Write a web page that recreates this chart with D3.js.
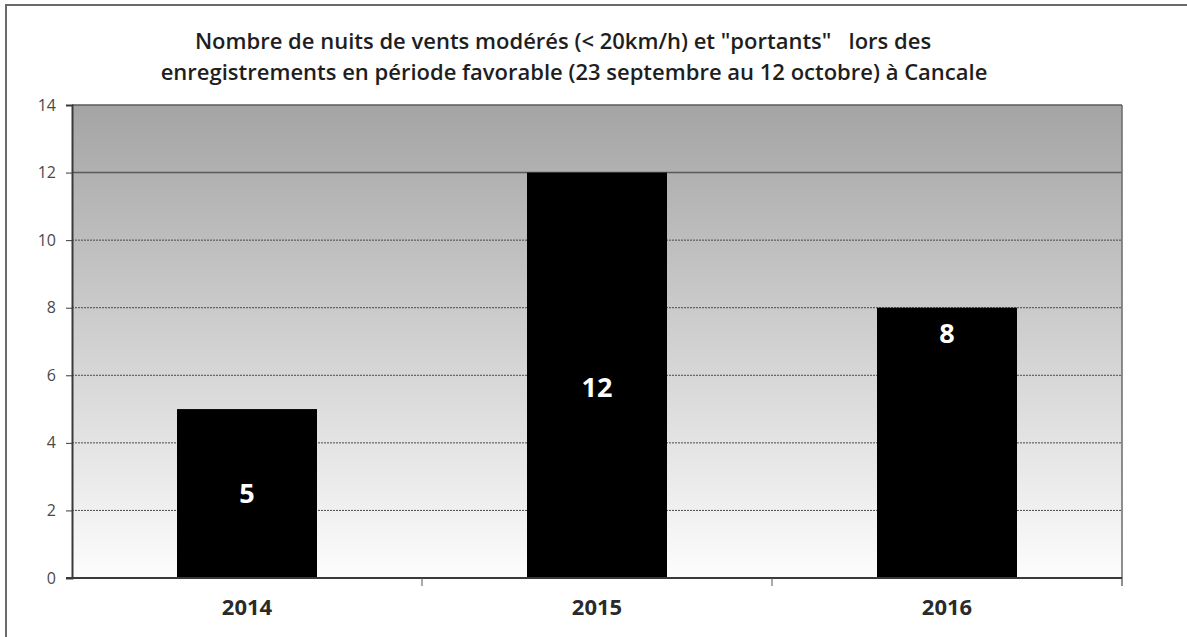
<!DOCTYPE html>
<html>
<head>
<meta charset="utf-8">
<script src="https://cdn.jsdelivr.net/npm/d3@7"></script>
<style>
  body { margin: 0; background: #fff; }
  svg { display: block; }
</style>
</head>
<body>
<div class="chart"></div>
<script>
const years = ['2014', '2015', '2016']
const nights = [5, 12, 8]
const yTicks = [0, 2, 4, 6, 8, 10, 12, 14]
const titleLines = [
  'Nombre de nuits de vents modérés (< 20km/h) et "portants"   lors des',
  'enregistrements en période favorable (23 septembre au 12 octobre) à Cancale'
]

const W = 1187, H = 637
const margin = ({top: 105, right: 65, bottom: 59, left: 72})
const width = W - margin.left - margin.right
const height = H - margin.top - margin.bottom

const svg = d3.select('.chart').append('svg')
    .attr('width', W)
    .attr('height', H)

// outer frame (runs off right / bottom edge like the scan)
svg.append('rect')
    .attr('x', 6).attr('y', 5)
    .attr('width', W + 20).attr('height', H + 20)
    .attr('fill', 'none')
    .attr('stroke', '#6a6a6a')
    .attr('stroke-width', 2)

const defs = svg.append('defs')
const grad = defs.append('linearGradient')
    .attr('id', 'bg').attr('x1', 0).attr('y1', 0).attr('x2', 0).attr('y2', 1)
grad.append('stop').attr('offset', '0%').attr('stop-color', '#a4a4a4')
grad.append('stop').attr('offset', '100%').attr('stop-color', '#fdfdfd')

svg.selectAll('.title')
    .data(titleLines)
    .enter()
    .append('text')
    .attr('class', 'title')
    .attr('x', (d, i) => i == 0 ? 563 : 574)
    .attr('y', (d, i) => 49 + i * 31)
    .attr('text-anchor', 'middle')
    .style('white-space', 'pre')
    .style('font-family', 'Open Sans')
    .style('font-weight', 600)
    .style('font-size', '22px')
    .style('fill', '#1e1e1e')
    .text(d => d)

const g = svg.append('g')
    .attr('transform', `translate(${margin.left},${margin.top})`)

const xScale = d3.scaleBand()
    .domain(years)
    .range([0, width])
    .paddingInner(0.6)
    .paddingOuter(0.3)

const yScale = d3.scaleLinear()
    .domain([0, 14])
    .range([height, 0])

g.append('rect')
    .attr('width', width)
    .attr('height', height)
    .attr('fill', 'url(#bg)')

// gridlines
g.selectAll('.grid')
    .data(yTicks.filter(t => t > 0))
    .enter()
    .append('line')
    .attr('class', 'grid')
    .attr('x1', 0).attr('x2', width)
    .attr('y1', d => yScale(d)).attr('y2', d => yScale(d))
    .attr('stroke', d => d >= 12 ? '#5a5a5a' : '#4a4a4a')
    .attr('stroke-width', d => d >= 12 ? 1.5 : 1)
    .attr('stroke-dasharray', d => d >= 12 ? null : '2,1')

// right border of plot area
g.append('line')
    .attr('x1', width).attr('x2', width)
    .attr('y1', 0).attr('y2', height + 8)
    .attr('stroke', '#6a6a6a')
    .attr('stroke-width', 1.5)

g.selectAll('.bar')
    .data(nights)
    .enter()
    .append('rect')
    .attr('class', 'bar')
    .attr('x', (d, i) => xScale(years[i]))
    .attr('y', d => yScale(d))
    .attr('width', xScale.bandwidth())
    .attr('height', d => height - yScale(d))
    .attr('fill', '#000')

// label heights (in axis units) as placed in the original
const labelAt = [2.5, 5.65, 7.25]
g.selectAll('.val')
    .data(nights)
    .enter()
    .append('text')
    .attr('class', 'val')
    .attr('x', (d, i) => xScale(years[i]) + xScale.bandwidth() / 2)
    .attr('y', (d, i) => yScale(labelAt[i]))
    .attr('dy', '0.36em')
    .attr('text-anchor', 'middle')
    .style('font-family', 'Open Sans')
    .style('font-weight', 700)
    .style('font-size', '27px')
    .style('fill', '#fff')
    .text(d => d)

// y axis
const yAxis = d3.axisLeft(yScale)
    .tickValues(yTicks)
    .tickSize(6)
    .tickPadding(10)
const ya = g.append('g').attr('class', 'axis y-axis').call(yAxis)
ya.select('.domain').attr('stroke', '#3a3a3a').attr('stroke-width', 2)
ya.selectAll('.tick line').attr('stroke', '#3a3a3a')
ya.selectAll('.tick text')
    .attr('font-size', null)
    .style('font-family', 'Open Sans')
    .style('font-size', '16px')
    .style('fill', '#4a4a4a')

// x axis: ticks at category boundaries
const xa = g.append('g')
    .attr('class', 'axis x-axis')
    .attr('transform', `translate(0,${height})`)
xa.append('line')
    .attr('x1', -6).attr('x2', width)
    .attr('stroke', '#3a3a3a').attr('stroke-width', 2)
xa.selectAll('.xt')
    .data(years.slice(1))
    .enter()
    .append('line')
    .attr('class', 'xt')
    .attr('x1', d => xScale(d) - xScale.step() * 0.3)
    .attr('x2', d => xScale(d) - xScale.step() * 0.3)
    .attr('y1', 0).attr('y2', 8)
    .attr('stroke', '#555')
xa.selectAll('.xl')
    .data(years)
    .enter()
    .append('text')
    .attr('class', 'xl')
    .attr('x', d => xScale(d) + xScale.bandwidth() / 2)
    .attr('y', 37)
    .attr('text-anchor', 'middle')
    .style('font-family', 'Open Sans')
    .style('font-weight', 700)
    .style('font-size', '22px')
    .style('fill', '#2a2a2a')
    .text(d => d)
</script>
</body>
</html>
